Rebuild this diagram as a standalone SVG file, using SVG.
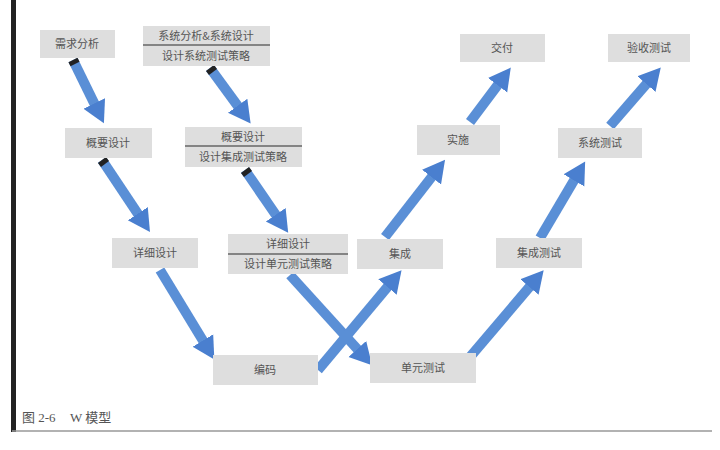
<svg xmlns="http://www.w3.org/2000/svg" width="720" height="450" viewBox="0 0 720 450">
<style>
.b{fill:#dedede}
.t{font-family:"Noto Sans CJK SC",sans-serif;font-size:11px;fill:#555;text-anchor:middle}
.d{stroke:#666;stroke-width:1.5}
.a{stroke:#5a8fd6;stroke-width:10;fill:none;marker-end:url(#h)}
.c{stroke:#222;stroke-width:10}
</style>
<defs>
<marker id="h" markerUnits="userSpaceOnUse" markerWidth="30" markerHeight="30" refX="4" refY="15" orient="auto" viewBox="0 0 30 30">
<polygon points="0,3 22,15 0,27" fill="#4a7fcf"/>
</marker>
</defs>
<rect width="720" height="450" fill="#fff"/>
<rect x="11" y="0" width="5" height="432" fill="#222"/>
<line x1="12" y1="431" x2="712" y2="431" stroke="#999" stroke-width="1.5"/>
<text x="22" y="422" font-family="Liberation Serif,'Noto Sans CJK SC',serif" font-size="13" fill="#555">图 2-6<tspan x="70">W 模型</tspan></text>
<g id="connectors">
<line class="a" x1="73" y1="60" x2="96" y2="107"/>
<line class="a" x1="210" y1="68" x2="240" y2="109"/>
<line class="a" x1="102" y1="160" x2="140" y2="217"/>
<line class="a" x1="245" y1="170" x2="278" y2="218"/>
<line class="a" x1="160" y1="270" x2="205" y2="344"/>
<line class="a" x1="290" y1="275" x2="360" y2="352"/>
<line class="a" x1="318" y1="370" x2="390" y2="284"/>
<line class="a" x1="385" y1="237" x2="434" y2="174"/>
<line class="a" x1="470" y1="357" x2="532" y2="284"/>
<line class="a" x1="540" y1="238" x2="576" y2="177"/>
<line class="a" x1="470" y1="122" x2="500" y2="82"/>
<line class="a" x1="610" y1="126" x2="649" y2="81"/>
<line class="c" x1="73" y1="60" x2="75" y2="64"/>
<line class="c" x1="210" y1="68" x2="213" y2="72"/>
<line class="c" x1="102" y1="160" x2="105" y2="164"/>
<line class="c" x1="245" y1="170" x2="248" y2="174"/>
</g>
<g id="n1"><rect class="b" x="40" y="30" width="75" height="28"/><text class="t" x="77" y="48">需求分析</text></g>
<g id="n2"><rect class="b" x="143" y="26" width="127" height="40"/><line class="d" x1="143" y1="45" x2="270" y2="45"/><text class="t" x="206" y="40">系统分析&amp;系统设计</text><text class="t" x="206" y="60">设计系统测试策略</text></g>
<g id="n3"><rect class="b" x="65" y="128" width="87" height="30"/><text class="t" x="108" y="147">概要设计</text></g>
<g id="n4"><rect class="b" x="185" y="127" width="117" height="40"/><line class="d" x1="185" y1="146" x2="302" y2="146"/><text class="t" x="243" y="141">概要设计</text><text class="t" x="243" y="161">设计集成测试策略</text></g>
<g id="n5"><rect class="b" x="112" y="238" width="86" height="30"/><text class="t" x="155" y="257">详细设计</text></g>
<g id="n6"><rect class="b" x="228" y="234" width="120" height="40"/><line class="d" x1="228" y1="254" x2="348" y2="254"/><text class="t" x="288" y="248">详细设计</text><text class="t" x="288" y="268">设计单元测试策略</text></g>
<g id="n7"><rect class="b" x="213" y="355" width="105" height="30"/><text class="t" x="265" y="374">编码</text></g>
<g id="n8"><rect class="b" x="370" y="353" width="106" height="30"/><text class="t" x="423" y="372">单元测试</text></g>
<g id="n9"><rect class="b" x="357" y="239" width="86" height="30"/><text class="t" x="400" y="258">集成</text></g>
<g id="n10"><rect class="b" x="417" y="125" width="83" height="30"/><text class="t" x="458" y="144">实施</text></g>
<g id="n11"><rect class="b" x="460" y="34" width="85" height="28"/><text class="t" x="502" y="52">交付</text></g>
<g id="n12"><rect class="b" x="496" y="238" width="86" height="30"/><text class="t" x="539" y="257">集成测试</text></g>
<g id="n13"><rect class="b" x="558" y="128" width="84" height="30"/><text class="t" x="600" y="147">系统测试</text></g>
<g id="n14"><rect class="b" x="608" y="34" width="82" height="28"/><text class="t" x="649" y="52">验收测试</text></g>
</svg>
